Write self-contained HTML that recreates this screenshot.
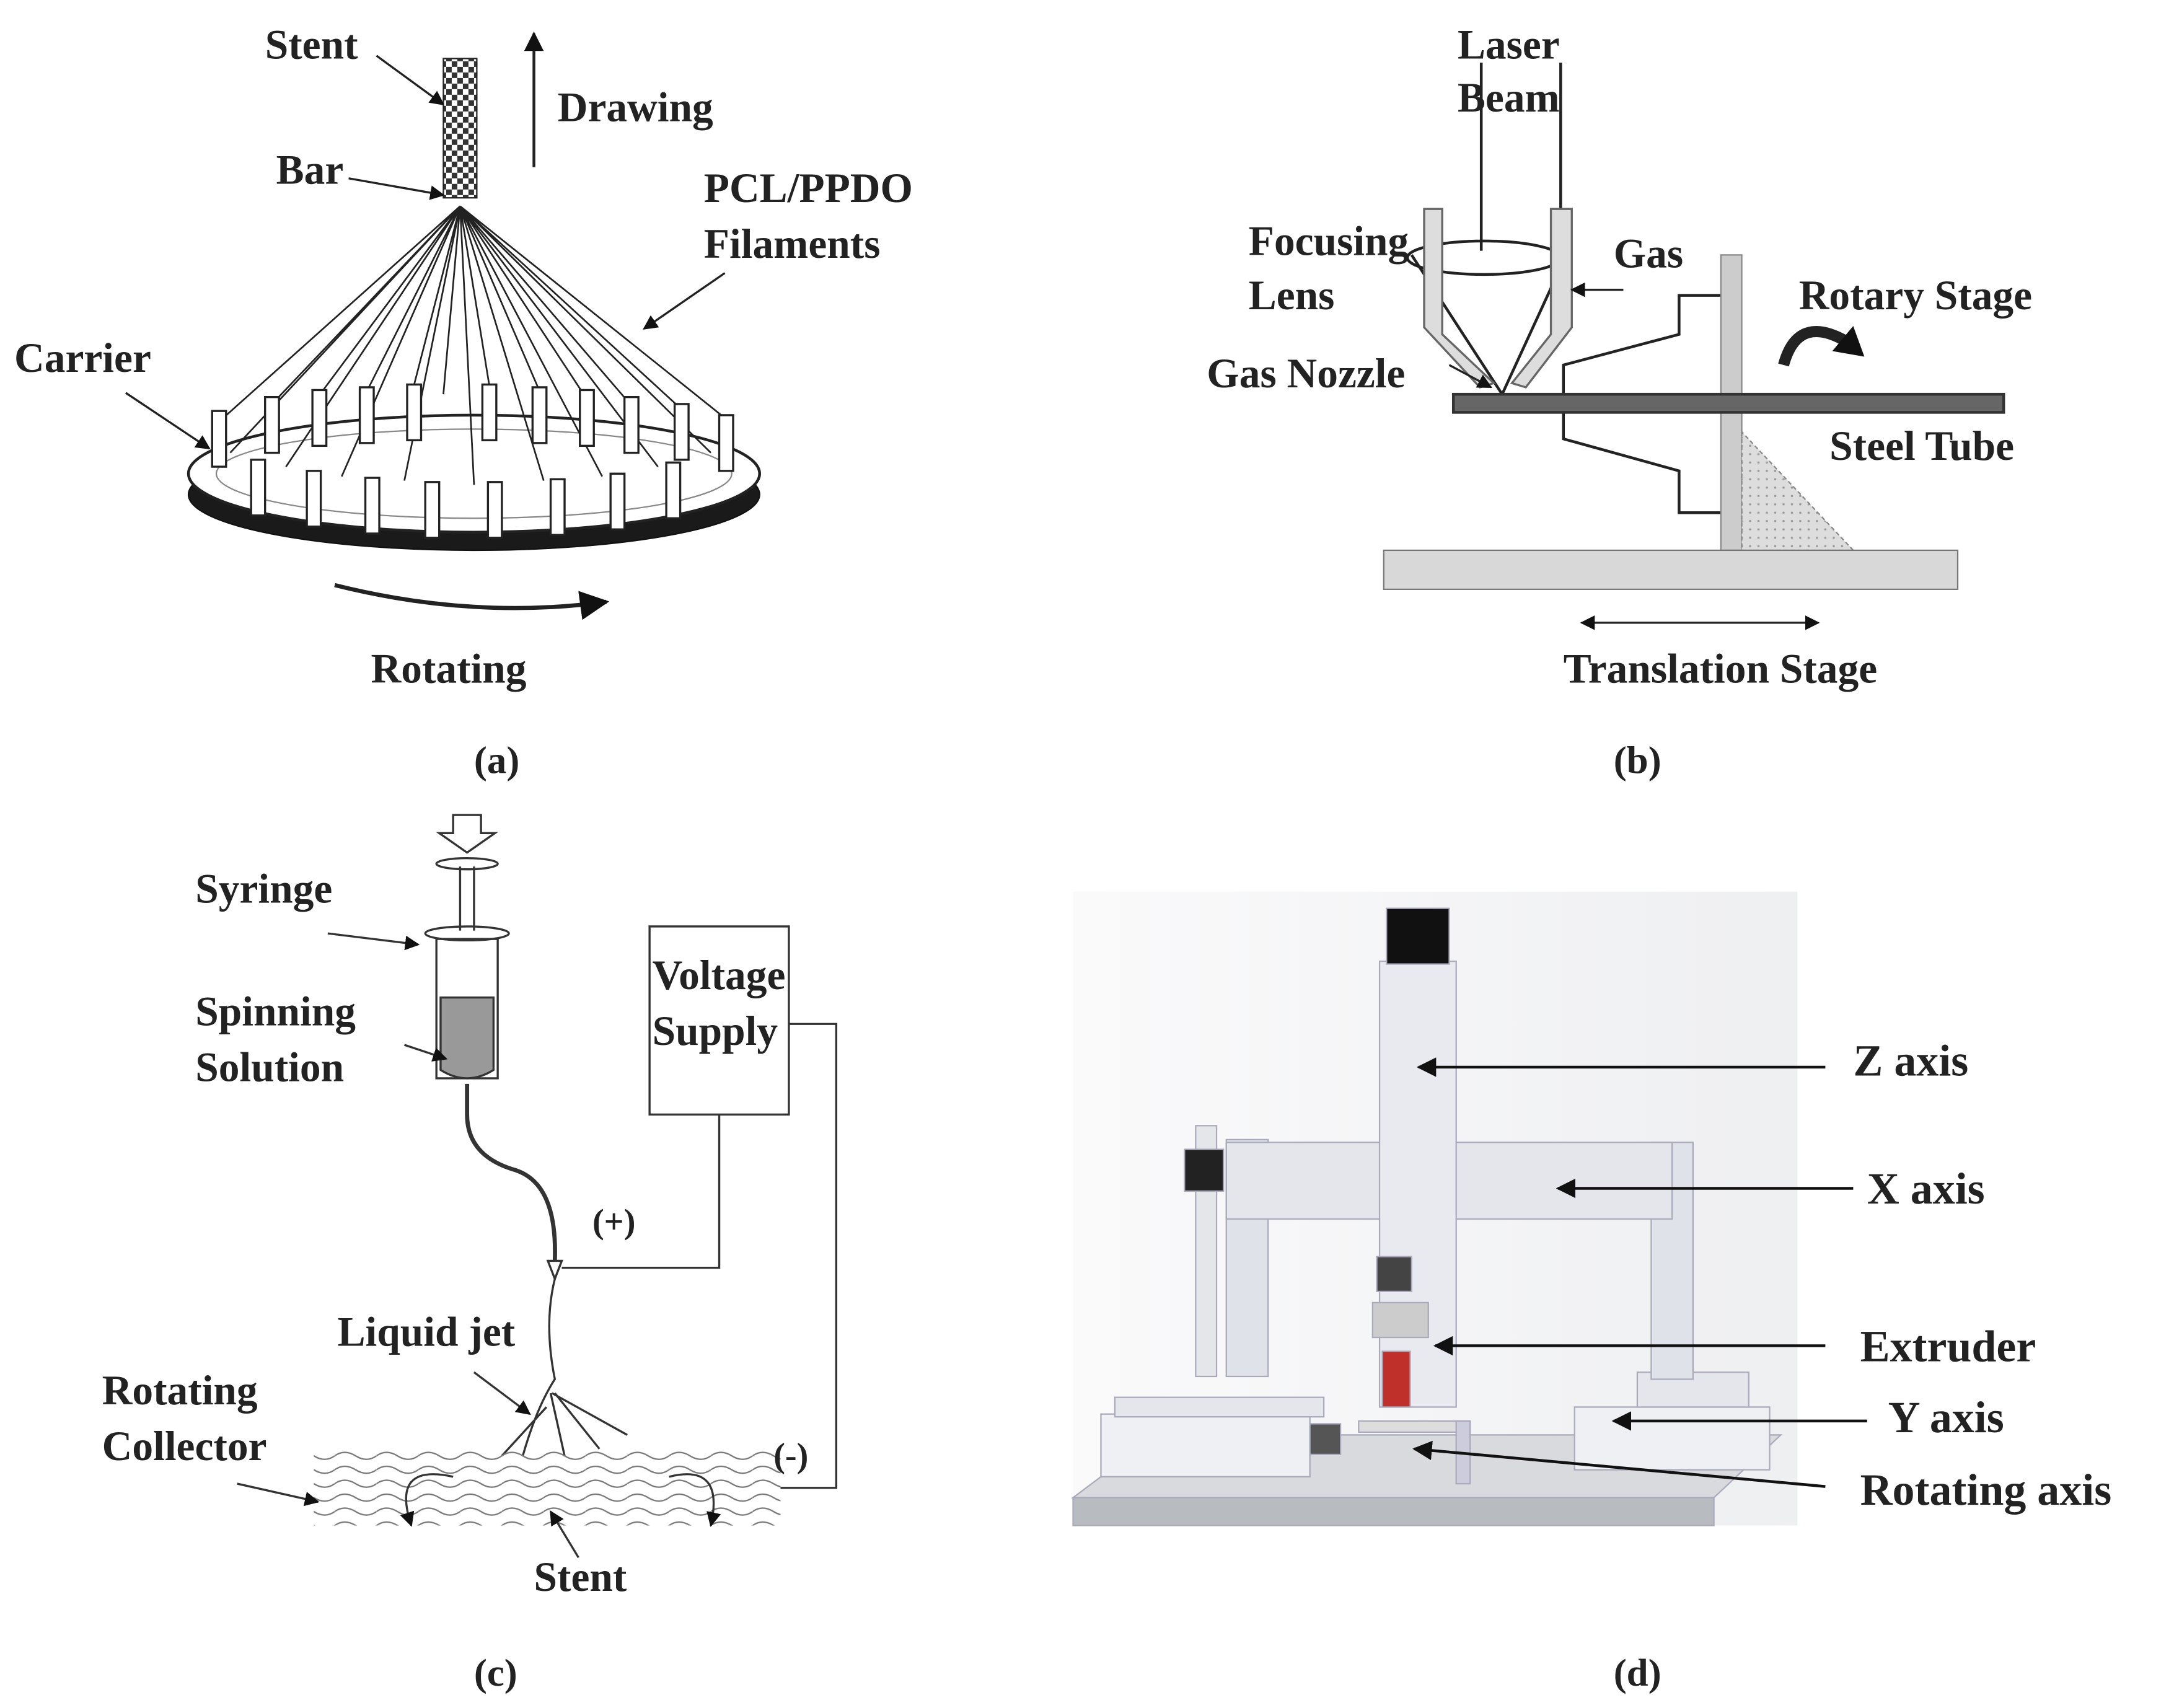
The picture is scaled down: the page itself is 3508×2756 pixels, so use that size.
<!DOCTYPE html>
<html><head><meta charset="utf-8"><style>
html,body{margin:0;padding:0;background:#fff}
svg{display:block}
text{font-family:"Liberation Serif",serif;font-weight:bold;fill:#222}
</style></head><body>
<svg width="3508" height="2756" viewBox="0 0 1560 1226" xmlns="http://www.w3.org/2000/svg">
<defs>
<pattern id="chk" width="8" height="8" patternUnits="userSpaceOnUse"><rect width="8" height="8" fill="#fff"/><rect width="4" height="4" fill="#333"/><rect x="4" y="4" width="4" height="4" fill="#333"/></pattern>
<pattern id="dots" width="6" height="6" patternUnits="userSpaceOnUse"><rect width="6" height="6" fill="#ddd"/><circle cx="2" cy="2" r="0.8" fill="#999"/></pattern>
<pattern id="wave" width="30" height="10" patternUnits="userSpaceOnUse"><path d="M0 5 Q7 0 15 5 T30 5" fill="none" stroke="#777" stroke-width="1"/></pattern>
<marker id="ah" viewBox="0 0 10 10" refX="9" refY="5" markerWidth="7" markerHeight="7" orient="auto-start-reverse"><path d="M0 0L10 5L0 10z" fill="#111"/></marker>
<linearGradient id="bgd" x1="0" x2="1"><stop offset="0" stop-color="#fafafb"/><stop offset="1" stop-color="#eeeff1"/></linearGradient>
</defs>

<!-- (a) -->
<g stroke="#222" fill="none">
<ellipse cx="340" cy="355" rx="205" ry="40" fill="#1a1a1a" stroke="#111"/>
<ellipse cx="340" cy="340" rx="205" ry="42" fill="#fff" stroke-width="2"/>
<ellipse cx="340" cy="340" rx="185" ry="32" stroke="#888"/>
<g stroke-width="1.2">
<path d="M330 148L160 300M330 148L195 290M330 148L228 285M330 148L262 283M330 148L296 280M330 148L318 283M330 148L352 283M330 148L388 283M330 148L420 285M330 148L452 290M330 148L487 292M330 148L520 300M330 148L165 325M330 148L205 335M330 148L245 342M330 148L290 345M330 148L340 348M330 148L390 345M330 148L432 342M330 148L472 335M330 148L510 325"/>
</g>
<g fill="#fff" stroke-width="1.5">
<rect x="152" y="295" width="10" height="40"/><rect x="190" y="285" width="10" height="40"/><rect x="224" y="280" width="10" height="40"/><rect x="258" y="278" width="10" height="40"/><rect x="292" y="276" width="10" height="40"/><rect x="346" y="276" width="10" height="40"/><rect x="382" y="278" width="10" height="40"/><rect x="416" y="280" width="10" height="40"/><rect x="448" y="285" width="10" height="40"/><rect x="484" y="290" width="10" height="40"/><rect x="516" y="298" width="10" height="40"/>
<rect x="180" y="330" width="10" height="40"/><rect x="220" y="338" width="10" height="40"/><rect x="262" y="343" width="10" height="40"/><rect x="305" y="346" width="10" height="40"/><rect x="350" y="346" width="10" height="40"/><rect x="395" y="344" width="10" height="40"/><rect x="438" y="340" width="10" height="40"/><rect x="478" y="332" width="10" height="40"/>
</g>
<rect x="318" y="42" width="24" height="100" fill="url(#chk)"/>
<line x1="383" y1="120" x2="383" y2="24" marker-end="url(#ah)" stroke-width="2"/>
<line x1="270" y1="40" x2="318" y2="75" marker-end="url(#ah)" stroke-width="1.5"/>
<line x1="250" y1="128" x2="318" y2="140" marker-end="url(#ah)" stroke-width="1.5"/>
<line x1="520" y1="196" x2="462" y2="236" marker-end="url(#ah)" stroke-width="1.5"/>
<line x1="90" y1="282" x2="150" y2="322" marker-end="url(#ah)" stroke-width="1.5"/>
<path d="M240 420Q340 445 435 432" marker-end="url(#ah)" stroke-width="3"/>
</g>
<g font-size="30">
<text x="190" y="42">Stent</text>
<text x="400" y="87">Drawing</text>
<text x="198" y="132">Bar</text>
<text x="505" y="145">PCL/PPDO</text>
<text x="505" y="185">Filaments</text>
<text x="10" y="267">Carrier</text>
<text x="266" y="490">Rotating</text>
</g>
<text x="340" y="555" font-size="28" font-weight="normal">(<tspan font-weight="bold">a</tspan>)</text>

<!-- (b) -->
<g stroke="#222" fill="none" stroke-width="2">
<line x1="1063" y1="45" x2="1063" y2="180"/><line x1="1120" y1="45" x2="1120" y2="180"/>
<path d="M1013 183L1078 283L1124 183"/>
<ellipse cx="1065" cy="185" rx="55" ry="12"/>
<path d="M1022 150L1035 150L1035 240L1072 275L1062 278L1022 235Z" fill="#ddd" stroke="#666" stroke-width="1.5"/>
<path d="M1113 150L1128 150L1128 235L1095 278L1085 275L1113 240Z" fill="#ddd" stroke="#666" stroke-width="1.5"/>
<path d="M1240 212L1205 212L1205 240L1122 262L1122 283M1122 296L1122 315L1205 338L1205 368L1240 368"/>
<rect x="1235" y="183" width="15" height="212" fill="#ccc" stroke="#888" stroke-width="1"/>
<path d="M1250 310L1250 395L1330 395Z" fill="url(#dots)" stroke="#888" stroke-width="1" stroke-dasharray="3 2"/>
<rect x="1043" y="283" width="395" height="13" fill="#666" stroke="#333"/>
<rect x="993" y="395" width="412" height="28" fill="#d8d8d8" stroke="#777" stroke-width="1"/>
<line x1="1135" y1="447" x2="1305" y2="447" marker-start="url(#ah)" marker-end="url(#ah)" stroke-width="1.5"/>
<line x1="1165" y1="208" x2="1128" y2="208" marker-end="url(#ah)" stroke-width="1.5"/>
<line x1="1040" y1="262" x2="1070" y2="278" marker-end="url(#ah)" stroke-width="1.5"/>
<path d="M1280 262Q1290 225 1325 245" stroke-width="8"/>
<path d="M1315 252L1338 256L1330 234" fill="#111" stroke="none"/>
</g>
<g font-size="30">
<text x="1046" y="42">Laser</text>
<text x="1046" y="80">Beam</text>
<text x="896" y="183">Focusing</text>
<text x="896" y="222">Lens</text>
<text x="1158" y="192">Gas</text>
<text x="1291" y="222">Rotary Stage</text>
<text x="866" y="278">Gas Nozzle</text>
<text x="1313" y="330">Steel Tube</text>
<text x="1122" y="490">Translation Stage</text>
</g>
<text x="1158" y="555" font-size="28" font-weight="normal">(<tspan font-weight="bold">b</tspan>)</text>

<!-- (c) -->
<g stroke="#333" fill="none" stroke-width="1.5">
<path d="M325 585L345 585L345 598L355 598L335 612L315 598L325 598Z"/>
<ellipse cx="335" cy="620" rx="22" ry="4"/>
<line x1="330" y1="622" x2="330" y2="668"/><line x1="340" y1="622" x2="340" y2="668"/>
<ellipse cx="335" cy="670" rx="30" ry="5"/>
<rect x="313" y="674" width="44" height="100"/>
<path d="M316 716L354 716L354 768Q335 780 316 768Z" fill="#999"/>
<path d="M335 778L335 800Q335 830 370 840Q400 850 398 905" stroke-width="3"/>
<path d="M393 905L403 905L398 918Z" fill="#fff"/>
<path d="M398 918Q390 950 398 990Q385 1010 375 1045M395 1000L405 1045M398 1000L430 1040M392 1010L360 1045M396 1000L450 1030"/>
<rect x="466" y="665" width="100" height="135" fill="#fff"/>
<path d="M516 800L516 910L403 910"/>
<path d="M566 735L600 735L600 1068L560 1068"/>
<rect x="225" y="1040" width="335" height="55" fill="url(#wave)" stroke="none"/>
<path d="M325 1060Q280 1050 295 1095" marker-end="url(#ah)"/>
<path d="M480 1060Q520 1050 510 1095" marker-end="url(#ah)"/>
<line x1="235" y1="670" x2="300" y2="678" marker-end="url(#ah)"/>
<line x1="290" y1="750" x2="320" y2="760" marker-end="url(#ah)"/>
<line x1="340" y1="985" x2="380" y2="1015" marker-end="url(#ah)"/>
<line x1="170" y1="1065" x2="228" y2="1078" marker-end="url(#ah)"/>
<line x1="415" y1="1118" x2="395" y2="1085" marker-end="url(#ah)"/>
</g>
<g font-size="30">
<text x="140" y="648">Syringe</text>
<text x="140" y="736">Spinning</text>
<text x="140" y="776">Solution</text>
<text x="468" y="710" font-weight="normal">Voltage</text>
<text x="468" y="750" font-weight="normal">Supply</text>
<text x="242" y="966" font-weight="normal">Liquid jet</text>
<text x="73" y="1008">Rotating</text>
<text x="73" y="1048">Collector</text>
<text x="383" y="1142">Stent</text>
</g>
<text x="425" y="885" font-size="25">(+)</text>
<text x="555" y="1053" font-size="25">(-)</text>
<text x="340" y="1210" font-size="28" font-weight="normal">(<tspan font-weight="bold">c</tspan>)</text>

<!-- (d) -->
<rect x="770" y="640" width="520" height="455" fill="url(#bgd)"/>
<g stroke="#aab" stroke-width="1">
<path d="M770 1075L1230 1075L1278 1030L830 1030Z" fill="#d8dade"/>
<rect x="770" y="1075" width="460" height="20" fill="#b8bbc0"/>
<rect x="790" y="1015" width="150" height="45" fill="#eef0f4"/>
<rect x="800" y="1003" width="150" height="14" fill="#e4e6ec"/>
<rect x="1130" y="1010" width="140" height="45" fill="#eef0f4"/>
<rect x="1175" y="985" width="80" height="25" fill="#e4e6ec"/>
<rect x="858" y="808" width="15" height="180" fill="#e4e6ea"/>
<rect x="880" y="818" width="30" height="170" fill="#dfe2e8"/>
<rect x="1185" y="820" width="30" height="170" fill="#dfe2e8"/>
<rect x="880" y="820" width="320" height="55" fill="#e4e6ec"/>
<rect x="850" y="825" width="28" height="30" fill="#222"/>
<rect x="990" y="690" width="55" height="320" fill="#e8eaf0"/>
<rect x="995" y="652" width="45" height="40" fill="#111"/>
<rect x="988" y="902" width="25" height="25" fill="#444"/>
<rect x="985" y="935" width="40" height="25" fill="#ccc"/>
<rect x="992" y="970" width="20" height="40" fill="#c0302a"/>
<rect x="975" y="1020" width="80" height="8" fill="#ddd"/>
<rect x="940" y="1022" width="22" height="22" fill="#555"/>
<rect x="1045" y="1020" width="10" height="45" fill="#ccd"/>
</g>
<g stroke="#111" stroke-width="2" fill="none">
<line x1="1310" y1="766" x2="1018" y2="766" marker-end="url(#ah)"/>
<line x1="1330" y1="853" x2="1118" y2="853" marker-end="url(#ah)"/>
<line x1="1310" y1="966" x2="1030" y2="966" marker-end="url(#ah)"/>
<line x1="1340" y1="1020" x2="1158" y2="1020" marker-end="url(#ah)"/>
<line x1="1310" y1="1067" x2="1015" y2="1040" marker-end="url(#ah)"/>
</g>
<g font-size="32">
<text x="1330" y="772">Z axis</text>
<text x="1340" y="864">X axis</text>
<text x="1335" y="977">Extruder</text>
<text x="1355" y="1028">Y axis</text>
<text x="1335" y="1080">Rotating axis</text>
</g>
<text x="1158" y="1210" font-size="28" font-weight="normal">(<tspan font-weight="bold">d</tspan>)</text>
</svg>
</body></html>
